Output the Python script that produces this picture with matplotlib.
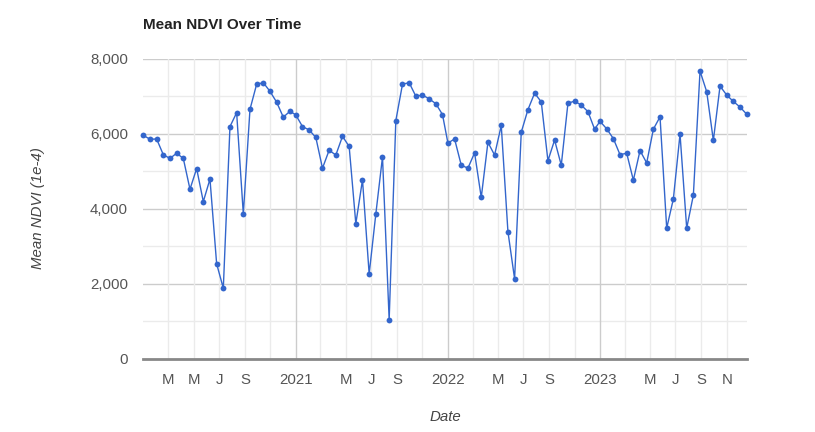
import datetime as dt
import matplotlib
matplotlib.use("Agg")
import matplotlib.pyplot as plt
import matplotlib.dates as mdates
from matplotlib.ticker import FixedLocator, MultipleLocator, FuncFormatter

plt.rcParams["font.family"] = ["Liberation Sans", "DejaVu Sans"]

# 16-day composites, start day-of-year of each period
years = [2020, 2021, 2022, 2023]
doy = [1, 17, 33, 49, 65, 81, 97, 113, 129, 145, 161, 177,
       193, 209, 225, 241, 257, 273, 289, 305, 321, 337, 353]

ndvi_2020 = [5960, 5850, 5860, 5440, 5340, 5480, 5340, 4520, 5070, 4190, 4790, 2530,
             1880, 6190, 6560, 3860, 6650, 7320, 7360, 7130, 6840, 6440, 6600]
ndvi_2021 = [6500, 6190, 6100, 5900, 5080, 5560, 5430, 5930, 5660, 3600, 4770, 2260,
             3860, 5380, 1040, 6350, 7320, 7360, 7000, 7030, 6930, 6800, 6510]
ndvi_2022 = [5750, 5860, 5160, 5080, 5490, 4300, 5770, 5430, 6220, 3390, 2130, 6040,
             6640, 7080, 6850, 5280, 5830, 5160, 6810, 6870, 6760, 6590, 6120]
ndvi_2023 = [6330, 6130, 5870, 5440, 5480, 4760, 5550, 5220, 6120, 6450, 3480, 4260,
             5990, 3480, 4360, 7670, 7120, 5820, 7270, 7030, 6860, 6710, 6520]

tick_months = [(2020, 3, "M"), (2020, 5, "M"), (2020, 7, "J"), (2020, 9, "S"), (2020, 11, ""),
               (2021, 1, "2021"), (2021, 3, ""), (2021, 5, "M"), (2021, 7, "J"), (2021, 9, "S"), (2021, 11, ""),
               (2022, 1, "2022"), (2022, 3, ""), (2022, 5, "M"), (2022, 7, "J"), (2022, 9, "S"), (2022, 11, ""),
               (2023, 1, "2023"), (2023, 3, ""), (2023, 5, "M"), (2023, 7, "J"), (2023, 9, "S"), (2023, 11, "N")]

dates = [dt.date(y, 1, 1) + dt.timedelta(days=d - 1) for y in years for d in doy]
values = ndvi_2020 + ndvi_2021 + ndvi_2022 + ndvi_2023

fig = plt.figure(figsize=(8.15, 4.32), dpi=100)
ax = fig.add_axes([143.3 / 815, 73.3 / 432, 603.4 / 815, 300 / 432])

# horizontal grid
for v in range(1000, 8001, 1000):
    ax.axhline(v, color="#cccccc" if v % 2000 == 0 else "#ebebeb", lw=1, zorder=0)

# vertical grid
tick_pos = [mdates.date2num(dt.date(y, m, 1)) for y, m, _ in tick_months]
for (y, m, _), p in zip(tick_months, tick_pos):
    ax.axvline(p, color="#cccccc" if m == 1 else "#ebebeb", lw=1, zorder=0)

ax.plot(dates, values, color="#3366cc", lw=1.0, marker="o", markersize=4.2,
        markeredgewidth=0, zorder=3, clip_on=False)

ax.set_xlim(dt.date(2020, 1, 1), dt.date(2023, 12, 19))
ax.set_ylim(0, 8000)

ax.xaxis.set_major_locator(FixedLocator(tick_pos))
ax.set_xticklabels([lab for _, _, lab in tick_months])
ax.yaxis.set_major_locator(MultipleLocator(2000))
ax.yaxis.set_major_formatter(FuncFormatter(lambda v, _: f"{int(v):,}"))
ax.tick_params(length=0, labelsize=10.8, colors="#555555")
ax.tick_params(axis="x", pad=10)
ax.tick_params(axis="y", pad=11)

for side in ["top", "right", "left"]:
    ax.spines[side].set_visible(False)
ax.spines["bottom"].set_color("#888888")
ax.spines["bottom"].set_linewidth(2)
ax.spines["bottom"].set_zorder(4)

fig.text(143.3 / 815, 1 - 25 / 432, "Mean NDVI Over Time", fontsize=11,
         fontweight="bold", color="#222222", ha="left", va="center")
fig.text(38 / 815, 1 - 208.5 / 432, "Mean NDVI (1e-4)", fontsize=10.8, style="italic",
         color="#444444", rotation=90, ha="center", va="center")
fig.text(445 / 815, 1 - 417 / 432, "Date", fontsize=10.8, style="italic",
         color="#444444", ha="center", va="center")

fig.savefig("out.png", dpi=100)
